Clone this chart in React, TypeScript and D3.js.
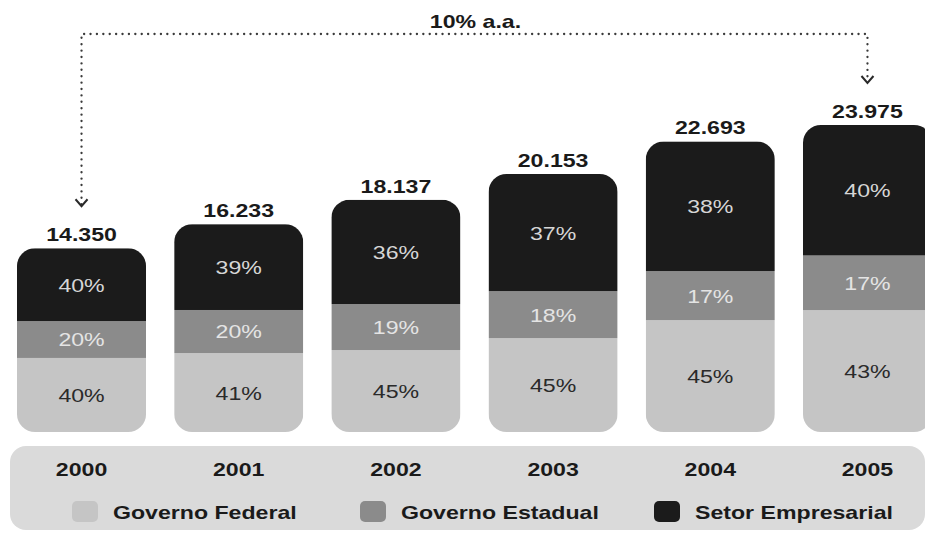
import React from "react";
import * as d3 from "d3";

const years = ["2000", "2001", "2002", "2003", "2004", "2005"];
const totals = [14350, 16233, 18137, 20153, 22693, 23975];
const totalLabels = ["14.350", "16.233", "18.137", "20.153", "22.693", "23.975"];
// shares printed on the bars (%)
const federal = [40, 41, 45, 45, 45, 43];
const estadual = [20, 20, 19, 18, 17, 17];
const empresarial = [40, 39, 36, 37, 38, 40];
// shares of each bar's height as drawn in the picture (%)
const federalDrawn = [40.3, 38.0, 35.3, 36.4, 38.5, 39.7];
const estadualDrawn = [20.1, 20.7, 19.8, 18.2, 16.9, 17.8];
const empresarialDrawn = [39.6, 41.3, 44.9, 45.4, 44.6, 42.5];
const seriesKeys = ["federal", "estadual", "empresarial"];
const seriesNames = ["Governo Federal", "Governo Estadual", "Setor Empresarial"];
const growthLabel = "10% a.a.";

const W = 925;
const H = 533;
const FONT = "'Liberation Sans', Arial, Helvetica, sans-serif";
const SX = 1.25;
const FS = 18.5;

const fills: Record<string, string> = {
  federal: "#c5c5c5",
  estadual: "#8b8b8b",
  empresarial: "#1b1b1b",
};
const labelFills: Record<string, string> = {
  federal: "#2a2a2a",
  estadual: "#e4e4e4",
  empresarial: "#d6d6d6",
};

function T(props: {
  x: number;
  y: number;
  children: React.ReactNode;
  anchor?: string;
  weight?: string | number;
  fill?: string;
}) {
  const { x, y, children, anchor = "middle", weight = "bold", fill = "#1a1a1a" } = props;
  return (
    <text
      transform={`translate(${x},${y}) scale(${SX},1)`}
      textAnchor={anchor}
      fontFamily={FONT}
      fontSize={FS}
      fontWeight={weight}
      fill={fill}
    >
      {children}
    </text>
  );
}

export default function App() {
  const labels: Record<string, number[]> = { federal, estadual, empresarial };
  const rows = years.map((yr, i) => ({
    year: yr,
    total: totals[i],
    federal: federalDrawn[i],
    estadual: estadualDrawn[i],
    empresarial: empresarialDrawn[i],
  }));

  const x = d3
    .scaleBand<string>()
    .domain(years)
    .range([17, 932])
    .paddingInner(0.179)
    .paddingOuter(0);
  const y = d3.scaleLinear().domain([0, 23975]).range([432, 125]);
  const stack = d3.stack<any>().keys(seriesKeys);
  const stacked = stack(rows);

  const bw = x.bandwidth();
  const r = 18;

  const cx0 = (x(years[0]) as number) + bw / 2;
  const cx5 = (x(years[years.length - 1]) as number) + bw / 2;
  const tip0 = y(totals[0]) - 7 - 35;
  const tip5 = y(totals[totals.length - 1]) - 7 - 35;
  const lineY = 34;

  const legendX = [72, 360, 654];

  return (
    <svg
      width={W}
      height={H}
      style={{ position: "absolute", left: 0, top: 0, background: "#fff" }}
    >
      <defs>
        {rows.map((d) => (
          <clipPath id={`clip-${d.year}`} key={d.year}>
            <rect
              x={x(d.year)}
              y={y(d.total)}
              width={bw}
              height={y(0) - y(d.total)}
              rx={r}
              ry={r}
            />
          </clipPath>
        ))}
      </defs>

      {/* growth annotation */}
      <path
        d={`M${cx0},${tip0 - 2} L${cx0},${lineY} L${cx5},${lineY} L${cx5},${tip5 - 2}`}
        fill="none"
        stroke="#3a3a3a"
        strokeWidth={2.3}
        strokeDasharray="0.1 6.3"
        strokeLinecap="round"
      />
      {[
        [cx0, tip0],
        [cx5, tip5],
      ].map(([cx, tp], i) => (
        <path
          key={i}
          d={`M${cx - 6},${tp - 7} L${cx},${tp} L${cx + 6},${tp - 7}`}
          fill="none"
          stroke="#2a2a2a"
          strokeWidth={2}
        />
      ))}
      <T x={(cx0 + cx5) / 2 + 1} y={28}>
        {growthLabel}
      </T>

      {/* bars */}
      {rows.map((d, i) => (
        <g key={d.year} clipPath={`url(#clip-${d.year})`}>
          {stacked.map((s) => {
            const seg = s[i];
            const y0 = y((d.total * seg[0]) / 100);
            const y1 = y((d.total * seg[1]) / 100);
            return (
              <rect
                key={s.key}
                x={x(d.year)}
                y={y1}
                width={bw}
                height={y0 - y1}
                fill={fills[s.key]}
              />
            );
          })}
        </g>
      ))}
      {rows.map((d, i) =>
        stacked.map((s) => {
          const seg = s[i];
          const y0 = y((d.total * seg[0]) / 100);
          const y1 = y((d.total * seg[1]) / 100);
          const v = labels[s.key][i];
          return (
            <T
              key={d.year + s.key}
              x={(x(d.year) as number) + bw / 2}
              y={(y0 + y1) / 2 + 7}
              weight="normal"
              fill={labelFills[s.key]}
            >
              {`${v}%`}
            </T>
          );
        })
      )}
      {rows.map((d, i) => (
        <T key={"tot" + d.year} x={(x(d.year) as number) + bw / 2} y={y(d.total) - 7}>
          {totalLabels[i]}
        </T>
      ))}

      {/* bottom panel */}
      <rect x={10} y={446} width={915} height={84} rx={16} ry={16} fill="#dadada" />
      {years.map((yr) => (
        <T key={"yr" + yr} x={(x(yr) as number) + bw / 2} y={476}>
          {yr}
        </T>
      ))}
      {seriesKeys.map((k, i) => (
        <g key={"lg" + k}>
          <rect x={legendX[i]} y={501} width={26} height={21} rx={5} ry={5} fill={fills[k]} />
          <T x={legendX[i] + 41} y={519} anchor="start">
            {seriesNames[i]}
          </T>
        </g>
      ))}
    </svg>
  );
}
